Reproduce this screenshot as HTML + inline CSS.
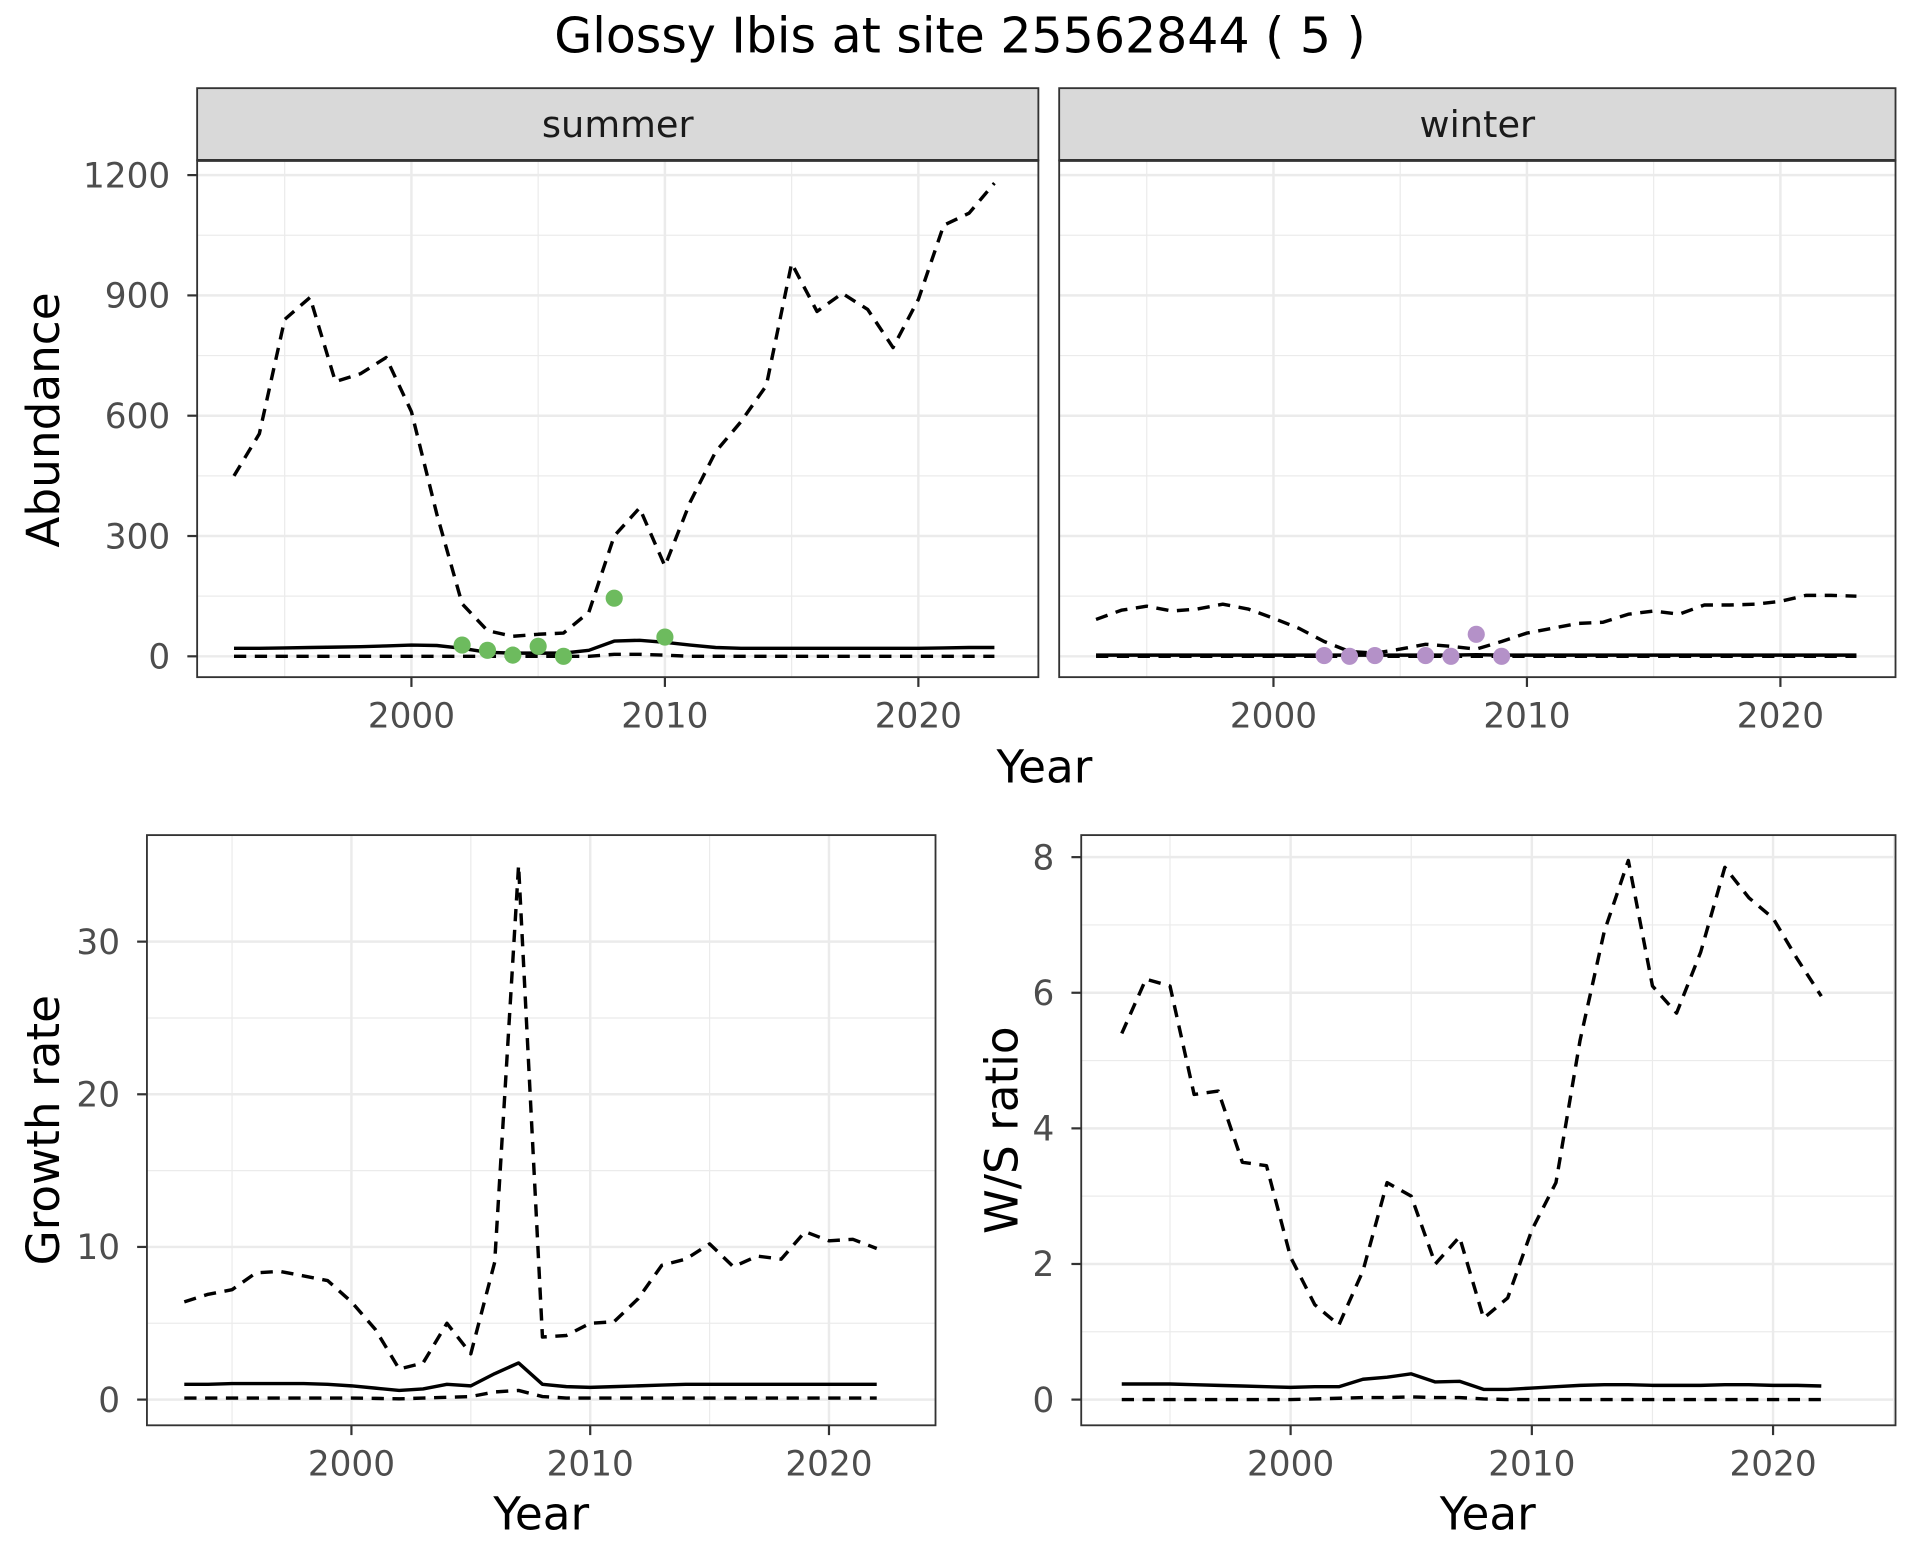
<!DOCTYPE html>
<html><head><meta charset="utf-8"><style>
html,body{margin:0;padding:0;background:#fff}
svg{display:block}
text{font-family:"DejaVu Sans","Liberation Sans",sans-serif}
</style></head><body>
<svg id="chart" width="1920" height="1560" viewBox="0 0 1568 1274" preserveAspectRatio="none" xmlns="http://www.w3.org/2000/svg">
<rect width="1568" height="1274" fill="#fff"/>
<text x="784" y="43" font-size="40" text-anchor="middle" fill="#000">Glossy Ibis at site 25562844 ( 5 )</text>
</svg>
<script>
const yearsA = [1993,1994,1995,1996,1997,1998,1999,2000,2001,2002,2003,2004,2005,2006,2007,2008,2009,2010,2011,2012,2013,2014,2015,2016,2017,2018,2019,2020,2021,2022,2023];
const summerUpper = [450,555,840,895,685,705,745,610,355,131,64,50,55,58,110,300,370,225,385,510,585,675,980,860,905,865,770,890,1075,1105,1180];
const summerMid = [20,20,21,22,23,24,26,28,27,20,10,8,8,8,15,38,40,35,28,22,20,20,20,20,20,20,20,20,21,22,22];
const summerLower = [0,0,0,0,0,0,0,0,0,0,0,0,0,0,0,5,5,3,0,0,0,0,0,0,0,0,0,0,0,0,0];
const summerObsYears = [2002,2003,2004,2005,2006,2008,2010];
const summerObs = [28,15,3,25,0,145,48];
const winterUpper = [92,115,125,113,118,130,118,95,70,37,12,8,18,30,25,18,37,58,70,82,85,105,113,105,128,128,130,137,152,152,150];
const winterMid = [3,3,3,3,3,3,3,3,3,3,3,3,3,3,3,4,3,3,3,3,3,3,3,3,3,3,3,3,3,3,3];
const winterLower = [0,0,0,0,0,0,0,0,0,0,0,0,0,0,0,0,0,0,0,0,0,0,0,0,0,0,0,0,0,0,0];
const winterObsYears = [2002,2003,2004,2006,2007,2008,2009];
const winterObs = [2,0,2,2,0,55,0];
const yearsB = [1993,1994,1995,1996,1997,1998,1999,2000,2001,2002,2003,2004,2005,2006,2007,2008,2009,2010,2011,2012,2013,2014,2015,2016,2017,2018,2019,2020,2021,2022];
const growthUpper = [6.4,6.9,7.2,8.3,8.4,8.1,7.8,6.4,4.6,2.0,2.4,5.0,3.0,9.0,35,4.1,4.2,5.0,5.1,6.6,8.8,9.2,10.2,8.7,9.4,9.2,11.0,10.4,10.5,9.9];
const growthMid = [1.0,1.0,1.05,1.05,1.05,1.05,1.0,0.9,0.75,0.6,0.7,1.0,0.9,1.7,2.4,1.0,0.85,0.8,0.85,0.9,0.95,1.0,1.0,1.0,1.0,1.0,1.0,1.0,1.0,1.0];
const growthLower = [0.1,0.1,0.1,0.1,0.1,0.1,0.1,0.1,0.08,0.05,0.1,0.15,0.2,0.5,0.6,0.2,0.1,0.1,0.1,0.1,0.1,0.1,0.1,0.1,0.1,0.1,0.1,0.1,0.1,0.1];
const ratioUpper = [5.4,6.2,6.1,4.5,4.55,3.5,3.45,2.1,1.4,1.1,1.9,3.2,3.0,2.0,2.4,1.2,1.5,2.5,3.2,5.3,6.9,7.95,6.1,5.7,6.6,7.85,7.4,7.1,6.5,5.95];
const ratioMid = [0.23,0.23,0.23,0.22,0.21,0.2,0.19,0.18,0.19,0.19,0.3,0.33,0.38,0.26,0.27,0.15,0.15,0.17,0.19,0.21,0.22,0.22,0.21,0.21,0.21,0.22,0.22,0.21,0.21,0.2];
const ratioLower = [0,0,0,0,0,0,0,0,0.01,0.02,0.03,0.03,0.04,0.03,0.03,0.01,0,0,0,0,0,0,0,0,0,0,0,0,0,0];
const xTicks = [2000,2010,2020];
const absTicks = [0,300,600,900,1200];
const growthTicks = [0,10,20,30];
const ratioTicks = [0,2,4,6,8];

const svg = document.getElementById('chart');
const NS = 'http://www.w3.org/2000/svg';
function mk(tag, attrs, parent){const e=document.createElementNS(NS,tag);for(const k in attrs)e.setAttribute(k,attrs[k]);(parent||svg).appendChild(e);return e;}

function panel(o){
  const g = mk('g',{});
  
  
  const sx = v => o.x0 + (v - o.xa) * (o.x1 - o.x0) / (o.xb - o.xa);
  const sy = v => o.y0 + (v - o.ya) * (o.y1 - o.y0) / (o.yb - o.ya);
  for (let i=0;i<o.xt.length+1;i++){ const v=o.xt[0]-5+10*i; const X=sx(v); if(X>o.L&&X<o.R) mk('line',{x1:X,x2:X,y1:o.T,y2:o.B,stroke:'#ebebeb','stroke-width':1},g); }
  for (let i=0;i<o.yt.length-1;i++){ const v=(o.yt[i]+o.yt[i+1])/2; mk('line',{x1:o.L,x2:o.R,y1:sy(v),y2:sy(v),stroke:'#ebebeb','stroke-width':1},g); }
  o.xt.forEach(v=>{ const X=sx(v); mk('line',{x1:X,x2:X,y1:o.T,y2:o.B,stroke:'#ebebeb','stroke-width':2},g);
    if(o.xlabels){ const t=mk('text',{x:X,y:o.B+41,'font-size':28,'text-anchor':'middle',fill:'#4d4d4d'},g); t.textContent=v;
        }
    mk('line',{x1:X,x2:X,y1:o.B,y2:o.B+8,stroke:'#333','stroke-width':1.8},g); });
  o.yt.forEach(v=>{ const Y=sy(v); mk('line',{x1:o.L,x2:o.R,y1:Y,y2:Y,stroke:'#ebebeb','stroke-width':2},g);
    if(o.ylabels){ const t=mk('text',{x:o.L-22,y:Y+10,'font-size':28,'text-anchor':'end',fill:'#4d4d4d'},g); t.textContent=v;
       
      mk('line',{x1:o.L-8,x2:o.L,y1:Y,y2:Y,stroke:'#333','stroke-width':1.8},g); } });
  function line(ys, dash, name){
    const d = ys.map((v,i)=>(i?'L':'M')+sx(o.years[i]).toFixed(2)+','+sy(v).toFixed(2)).join(' ');
    const p = mk('path',{d:d,fill:'none',stroke:'#000','stroke-width':2.8,'stroke-dasharray':dash?'10,7':'none','stroke-linejoin':'round'},g);
    
    
  }
  line(o.upper,true,'upper-bound-line');
  line(o.lower,true,'lower-bound-line');
  line(o.mid,false,'estimate-line');
  if(o.obs){ o.obs.forEach((v,i)=>{ const c=mk('circle',{cx:sx(o.obsYears[i]),cy:sy(v),r:7,fill:o.color},g);
      }); }
  mk('rect',{x:o.L,y:o.T,width:o.R-o.L,height:o.B-o.T,fill:'none',stroke:'#333','stroke-width':1.5},g);
  if(o.strip){ const r=mk('rect',{x:o.L,y:o.T-59,width:o.R-o.L,height:59,fill:'#d9d9d9',stroke:'#333','stroke-width':1.5},g);
     
    mk('line',{x1:o.L,x2:o.R,y1:o.T,y2:o.T,stroke:'#333','stroke-width':2.4},g);
    const t=mk('text',{x:(o.L+o.R)/2,y:o.T-19,'font-size':30,'text-anchor':'middle',fill:'#1a1a1a'},g); t.textContent=o.strip;
      }
}
panel({name:'summer-panel',L:161,R:848,T:131,B:553,x0:336,x1:543,xa:2000,xb:2010,y0:536,y1:143,ya:0,yb:1200,
  xt:xTicks,yt:absTicks,xlabels:true,ylabels:true,years:yearsA,upper:summerUpper,mid:summerMid,lower:summerLower,
  obs:summerObs,obsYears:summerObsYears,color:'#6dbb5e',strip:'summer'});
panel({name:'winter-panel',L:865,R:1548,T:131,B:553,x0:1040,x1:1247,xa:2000,xb:2010,y0:536,y1:143,ya:0,yb:1200,
  xt:xTicks,yt:absTicks,xlabels:true,ylabels:false,years:yearsA,upper:winterUpper,mid:winterMid,lower:winterLower,
  obs:winterObs,obsYears:winterObsYears,color:'#b491c8',strip:'winter'});
panel({name:'growth-rate-panel',L:120,R:764,T:682,B:1164,x0:287,x1:482,xa:2000,xb:2010,y0:1143,y1:769,ya:0,yb:30,
  xt:xTicks,yt:growthTicks,xlabels:true,ylabels:true,years:yearsB,upper:growthUpper,mid:growthMid,lower:growthLower});
panel({name:'ws-ratio-panel',L:883,R:1548,T:682,B:1164,x0:1054,x1:1251,xa:2000,xb:2010,y0:1143,y1:700,ya:0,yb:8,
  xt:xTicks,yt:ratioTicks,xlabels:true,ylabels:true,years:yearsB,upper:ratioUpper,mid:ratioMid,lower:ratioLower});

function label(txt,x,y,rot,name){ const t=mk('text',{x:x,y:y,'font-size':37,'text-anchor':'middle',fill:'#000',transform:rot?`rotate(-90 ${x} ${y})`:''}); t.textContent=txt;
    }
label('Abundance',48,343,true,'y-axis-title-abundance');
label('Year',853,639,false,'x-axis-title-top');
label('Growth rate',48,923,true,'y-axis-title-growth');
label('Year',442,1249,false,'x-axis-title-growth');
label('W/S ratio',831,923,true,'y-axis-title-ratio');
label('Year',1215,1249,false,'x-axis-title-ratio');
</script>
</body></html>
